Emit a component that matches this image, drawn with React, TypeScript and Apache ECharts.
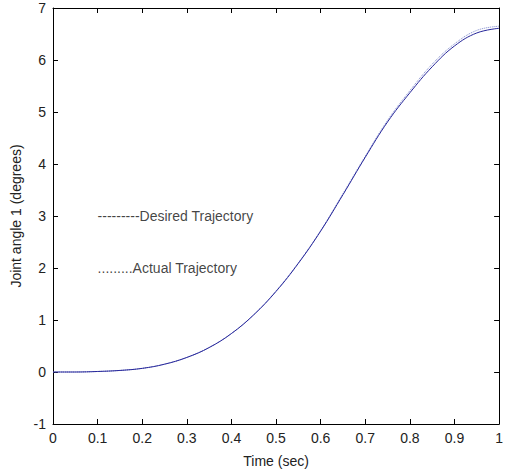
import React, { useEffect, useRef } from "react";
import * as echarts from "echarts";

const time = [0, 0.05, 0.1, 0.15, 0.2, 0.25, 0.3, 0.35, 0.4, 0.45, 0.5, 0.55, 0.6, 0.65, 0.7, 0.75, 0.8, 0.85, 0.9, 0.95, 1.0];
const desired = [0, 0.0, 0.01, 0.03, 0.07, 0.15, 0.28, 0.47, 0.74, 1.1, 1.55, 2.09, 2.71, 3.41, 4.13, 4.81, 5.37, 5.87, 6.27, 6.52, 6.61];
const actual = [0, 0.0, 0.01, 0.03, 0.07, 0.15, 0.28, 0.47, 0.74, 1.1, 1.56, 2.1, 2.72, 3.43, 4.15, 4.84, 5.41, 5.92, 6.31, 6.57, 6.65];
const noteTexts = ["---------Desired Trajectory", ".........Actual Trajectory"];
const noteX = [0.1, 0.1];
const noteY = [3, 2];
const xTitle = "Time (sec)";
const yTitle = "Joint angle 1 (degrees)";

const FONT = "'Liberation Sans', Arial, sans-serif";

export default function App() {
  const ref = useRef<HTMLDivElement>(null);
  useEffect(() => {
    if (!ref.current) return;
    const chart = echarts.init(ref.current, null, { renderer: "svg" });
    const axisLine = { show: true, onZero: false, lineStyle: { color: "#000", width: 1 } };
    const tick = { show: true, inside: true, length: 5, lineStyle: { color: "#000" } };
    const lbl = { color: "#222", fontSize: 14, fontFamily: FONT };
    chart.setOption({
      animation: false,
      backgroundColor: "#fff",
      grid: { left: 53, right: 3, top: 8, bottom: 47, containLabel: false },
      xAxis: [
        {
          type: "value", min: 0, max: 1, interval: 0.1,
          axisLine, axisTick: tick, splitLine: { show: false },
          axisLabel: { ...lbl, margin: 7, formatter: (v: number) => String(Math.round(v * 10) / 10) },
          name: xTitle, nameLocation: "middle", nameGap: 30,
          nameTextStyle: { color: "#222", fontSize: 14, fontFamily: FONT },
        },
        {
          type: "value", min: 0, max: 1, interval: 0.1, position: "top",
          axisLine, axisTick: tick, splitLine: { show: false }, axisLabel: { show: false },
        },
      ],
      yAxis: [
        {
          type: "value", min: -1, max: 7, interval: 1,
          axisLine, axisTick: tick, splitLine: { show: false },
          axisLabel: { ...lbl, margin: 7 },
          name: yTitle, nameLocation: "middle", nameGap: 27, nameRotate: 90,
          nameTextStyle: { color: "#222", fontSize: 14, fontFamily: FONT },
        },
        {
          type: "value", min: -1, max: 7, interval: 1, position: "right",
          axisLine, axisTick: tick, splitLine: { show: false }, axisLabel: { show: false },
        },
      ],
      series: [
        {
          type: "line", name: "Actual", data: time.map((t, i) => [t, actual[i]]),
          showSymbol: false, smooth: 0.4,
          lineStyle: { color: "#7a86cc", width: 1, type: "dotted" },
        },
        {
          type: "line", name: "Desired", data: time.map((t, i) => [t, desired[i]]),
          showSymbol: false, smooth: 0.4,
          lineStyle: { color: "#26269a", width: 1 },
        },
        {
          type: "scatter", symbolSize: 0, silent: true,
          data: noteTexts.map((s, i) => ({ value: [noteX[i], noteY[i]], name: s })),
          label: {
            show: true, position: "right", distance: 0, formatter: "{b}",
            color: "#111", fontSize: 14, fontFamily: FONT,
          },
        },
      ],
    });
    return () => chart.dispose();
  }, []);
  return <div ref={ref} style={{ width: 506, height: 473, position: "absolute", left: 0, top: 0 }} />;
}
